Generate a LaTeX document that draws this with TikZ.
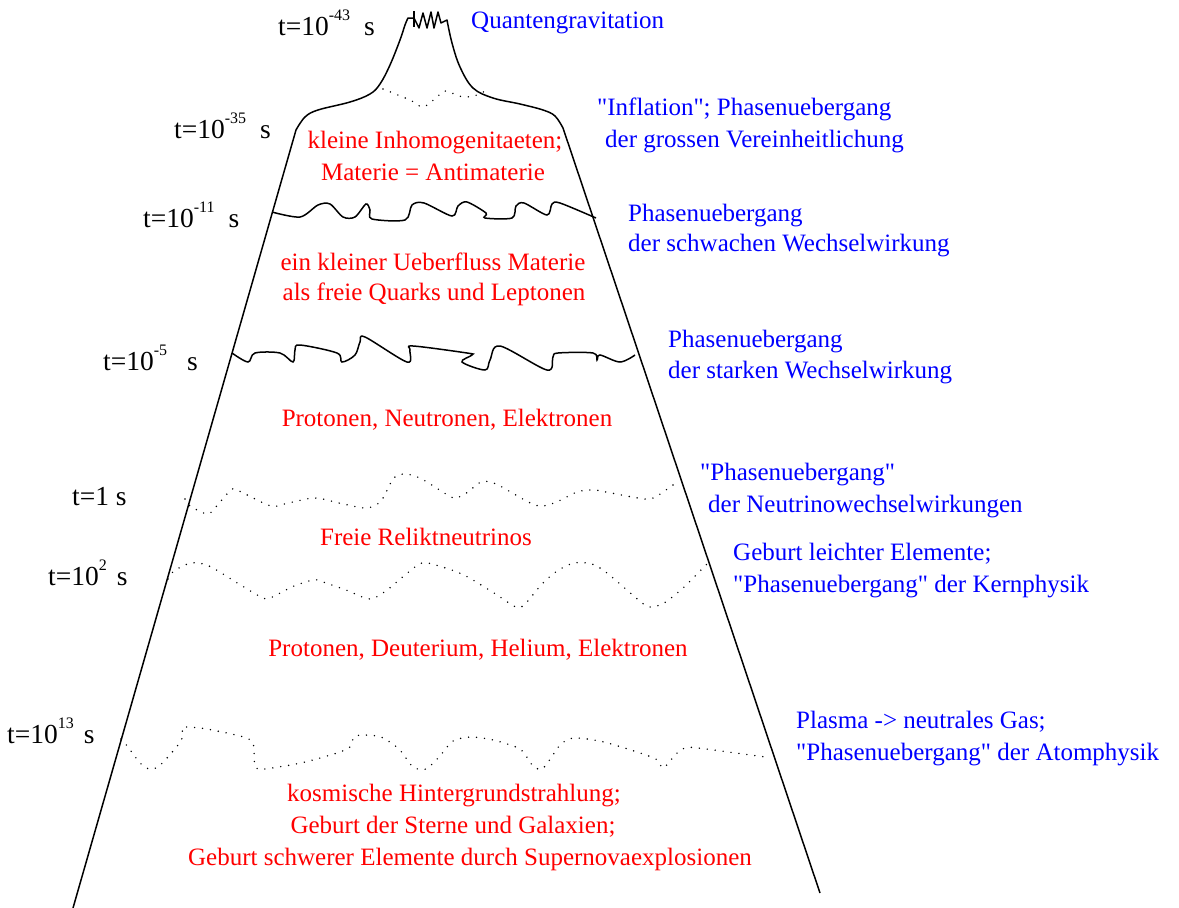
\documentclass[tikz,border=0pt]{standalone}
\usepackage{fontspec}
\setmainfont{Liberation Serif}[Ligatures=TeXOff]
\newcommand{\tmark}[2]{t=10\raisebox{15pt}{\fontsize{16}{16}\selectfont #1}\hspace{#2}s}

\begin{document}
\begin{tikzpicture}[x=1pt, y=-1pt,
  every node/.style={inner sep=0pt, font=\fontsize{25}{30}\selectfont},
  time/.style={anchor=base west, text=black, font=\fontsize{27.5}{30}\selectfont},
  epoch/.style={anchor=base, text=red},
  transition/.style={anchor=base west, text=blue},
  border/.style={line width=1.5pt, line join=round},
  solidwave/.style={line width=1.5pt},
  dotwave/.style={line width=1.6pt, line cap=round, dash pattern=on 0pt off 8pt}
]
\useasboundingbox (0,0) rectangle (1179,908);

% Outline of the universe
\draw[border] (73,908) -- plot[smooth, tension=0.6] coordinates {(296,130) (305,117) (318,110) (350,102) (370,94) (380,84) (390,65) (400,40) (405,25) (408,18)}
  -- (414,18) -- (419,28) -- (423,13) -- (427,28) -- (431,12) -- (434,28) -- (438,12) -- (441,23) -- (447,20)
  -- plot[smooth, tension=0.6] coordinates {(447,20) (452,43) (460,67) (473,88) (493,98) (520,104) (543,110) (555,116) (563,128)}
  -- (820,893);
\draw[border] (414,11) -- (414,27);

% Transitions
\draw[dotwave] plot[smooth] coordinates {(383,89) (410,100) (423,107) (437,97) (445,91) (463,97) (477,95) (485,91)};
\draw[solidwave] plot[smooth, tension=0.5] coordinates {(272,212) (300,217) (318,205) (330,204) (343,217) (355,217) (366,204) (370,210) (372,219) (405,220) (412,205) (424,203) (452,216) (458,206) (467,202) (486,213) (485,218) (512,218) (516,206) (524,203) (547,215) (552,204) (560,203) (596,218)};
\draw[solidwave] plot[smooth, tension=0.55] coordinates {(232,353) (248,362) (255,353) (280,353) (293,362) (295,350) (300,345) (337,353) (342,362) (355,355) (360,342) (365,337) (407,362) (410,350) (413,346) (467,353) (472,355) (462,362) (485,370) (490,360) (500,346) (547,370) (553,357) (558,353) (593,353) (597,360) (600,355) (620,362) (635,355)};
\draw[dotwave] plot[smooth] coordinates {(185,499) (190,506) (207,514) (214,509) (231,490) (239,491) (271,506) (288,503) (315,498) (339,503) (366,508) (381,501) (393,479) (403,474) (420,478) (451,497) (459,497) (468,492) (481,482) (496,484) (535,505) (554,503) (577,492) (594,490) (611,493) (645,499) (657,496) (677,482)};
\draw[dotwave] plot[smooth] coordinates {(168,579) (174,571) (191,563) (209,566) (239,584) (261,597) (270,598) (294,586) (313,580) (320,581) (346,590) (370,599) (387,590) (405,575) (422,563) (439,566) (464,575) (494,593) (516,607) (525,604) (542,584) (557,571) (574,563) (592,564) (607,573) (635,597) (649,607) (664,603) (683,588) (701,570) (707,564)};
\draw[dotwave] plot[smooth, tension=0.45] coordinates {(121,739) (128,747) (140,763) (149,769) (158,767) (167,758) (178,745) (183,736) (182,728) (187,727) (207,729) (247,738) (254,747) (254,758) (256,768) (265,769) (301,763) (337,753) (350,747) (354,737) (363,735) (381,737) (399,749) (413,767) (426,769) (439,757) (453,741) (471,737) (493,740) (520,749) (533,766) (542,769) (551,758) (560,745) (573,738) (604,742) (654,758) (663,768) (676,754) (685,748) (698,748) (765,757)};

% Time marks
\node[time] (t43) at (278,35) {\tmark{-43}{14pt}};
\node[time] (t35) at (174,138) {\tmark{-35}{14pt}};
\node[time] (t11) at (143,227) {\tmark{-11}{14pt}};
\node[time] (t5) at (103,370) {\tmark{-5}{20pt}};
\node[time] (t1) at (72,505) {t=1 s};
\node[time] (t2) at (48,585) {\tmark{2}{10pt}};
\node[time] (t13) at (7,743) {\tmark{13}{10pt}};

% Contents of each epoch
\node[epoch] (inhom) at (435,148) {kleine Inhomogenitaeten;};
\node[epoch] (anti) at (433,180) {Materie = Antimaterie};
\node[epoch] (excess) at (433,270) {ein kleiner Ueberfluss Materie};
\node[epoch] (quarks) at (434,300) {als freie Quarks und Leptonen};
\node[epoch] (nucleons) at (447,426) {Protonen, Neutronen, Elektronen};
\node[epoch] (relic) at (426,545) {Freie Reliktneutrinos};
\node[epoch] (light) at (478,656) {Protonen, Deuterium, Helium, Elektronen};
\node[epoch] (cmb) at (454,801) {kosmische Hintergrundstrahlung;};
\node[epoch] (stars) at (453,833) {Geburt der Sterne und Galaxien;};
\node[epoch] (heavy) at (470,865) {Geburt schwerer Elemente durch Supernovaexplosionen};

% Phase transitions
\node[transition] (qg) at (471,28) {Quantengravitation};
\node[transition] (infl) at (597,115) {"Inflation"; Phasenuebergang};
\node[transition] (gut) at (605,147) {der grossen Vereinheitlichung};
\node[transition] (weak1) at (628,221) {Phasenuebergang};
\node[transition] (weak2) at (628,251) {der schwachen Wechselwirkung};
\node[transition] (strong1) at (668,347) {Phasenuebergang};
\node[transition] (strong2) at (668,378) {der starken Wechselwirkung};
\node[transition] (nu1) at (700,480) {"Phasenuebergang"};
\node[transition] (nu2) at (708,512) {der Neutrinowechselwirkungen};
\node[transition] (nuc1) at (733,560) {Geburt leichter Elemente;};
\node[transition] (nuc2) at (733,592) {"Phasenuebergang" der Kernphysik};
\node[transition] (atom1) at (796,728) {Plasma -> neutrales Gas;};
\node[transition] (atom2) at (796,760) {"Phasenuebergang" der Atomphysik};

\end{tikzpicture}
\end{document}
